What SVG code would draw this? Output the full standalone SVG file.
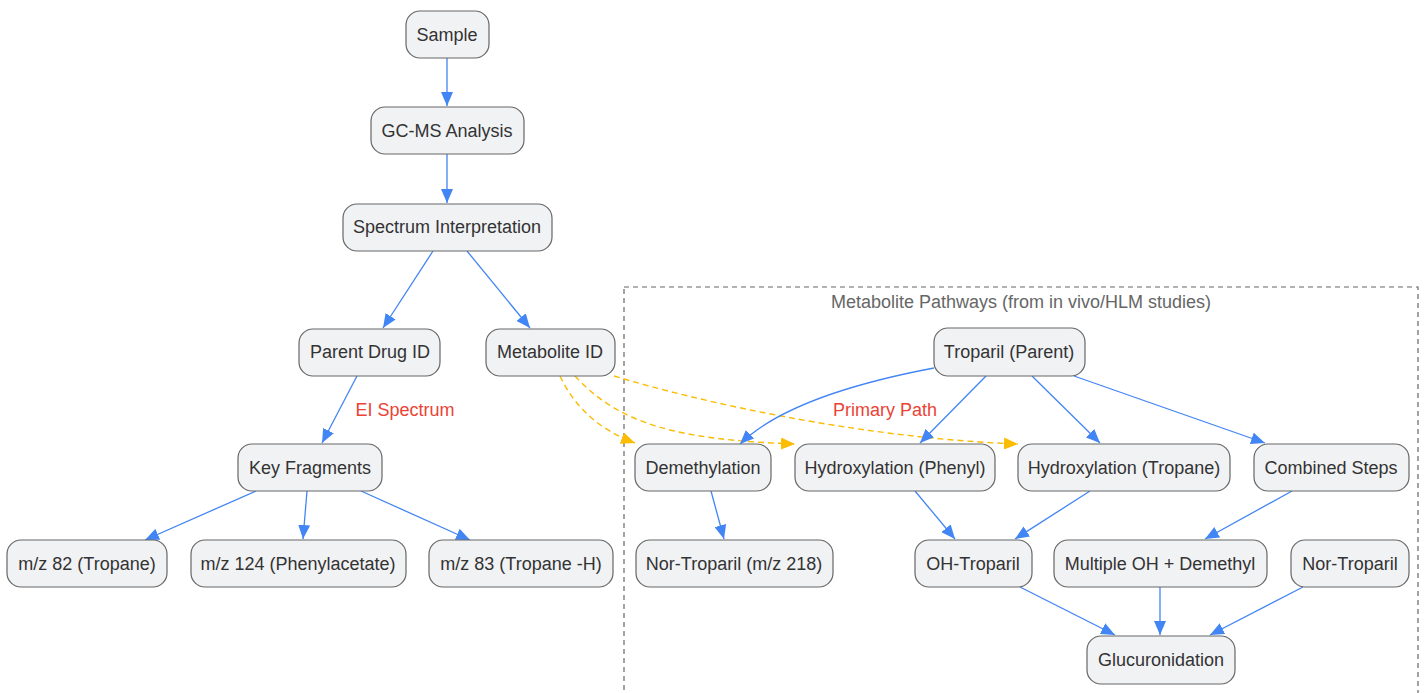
<svg xmlns="http://www.w3.org/2000/svg" width="1424" height="693" viewBox="0 0 1424 693">
<defs>
<marker id="ab" markerUnits="userSpaceOnUse" markerWidth="16" markerHeight="12" refX="14" refY="6" orient="auto"><path d="M0,0 L14,6 L0,12 z" fill="#4285f4"/></marker>
<marker id="ay" markerUnits="userSpaceOnUse" markerWidth="16" markerHeight="12" refX="14" refY="6" orient="auto"><path d="M0,0 L14,6 L0,12 z" fill="#fbbc04"/></marker>
</defs>
<style>
.n rect{fill:#f1f2f4;stroke:#666;stroke-width:1.2}
.n text{font-family:"Liberation Sans",Arial,sans-serif;font-size:18px;fill:#333;text-anchor:middle;dominant-baseline:central}
.e{fill:none;stroke:#4285f4;stroke-width:1.3;marker-end:url(#ab)}
.y{fill:none;stroke:#fbbc04;stroke-width:1.4;stroke-dasharray:6 4;marker-end:url(#ay)}
.lbl{font-family:"Liberation Sans",Arial,sans-serif;font-size:18px;fill:#ea4335;text-anchor:middle;dominant-baseline:central}
.ct{font-family:"Liberation Sans",Arial,sans-serif;font-size:18px;fill:#666;text-anchor:middle;dominant-baseline:central}
</style>
<rect width="1424" height="693" fill="#ffffff"/>
<g id="cluster">
<rect x="624" y="287" width="794" height="420" fill="none" stroke="#666" stroke-width="1.2" stroke-dasharray="5 4"/>
<text class="ct" x="1021" y="302">Metabolite Pathways (from in vivo/HLM studies)</text>
</g>
<g id="connectors">
<path class="e" d="M447,58 L447,106"/>
<path class="e" d="M447,154 L447,203"/>
<path class="e" d="M433,251 L383,328"/>
<path class="e" d="M467,251 L530,328"/>
<path class="e" d="M357,376 L322,443"/>
<path class="e" d="M256,491 L145,540"/>
<path class="e" d="M307,491 L303,539"/>
<path class="e" d="M361,491 L470,540"/>
<path class="y" d="M560,376 C575,408 600,430 635,443"/>
<path class="y" d="M575,376 C620,425 680,440 795,444"/>
<path class="y" d="M614,376 C700,402 860,438 1018,444"/>
<path class="e" d="M934,368 C860,382 780,405 740,444"/>
<path class="e" d="M986,376 L920,443"/>
<path class="e" d="M1032,376 L1100,443"/>
<path class="e" d="M1074,376 L1265,443"/>
<path class="e" d="M711,491 L724,539"/>
<path class="e" d="M915,491 L955,539"/>
<path class="e" d="M1090,491 L1015,539"/>
<path class="e" d="M1292,491 L1205,539"/>
<path class="e" d="M1020,587 L1115,635"/>
<path class="e" d="M1160,587 L1160,635"/>
<path class="e" d="M1303,587 L1210,635"/>
<text class="lbl" x="405" y="410">EI Spectrum</text>
<text class="lbl" x="885" y="410">Primary Path</text>
</g>
<g id="sample" class="n"><rect x="406" y="11" width="83" height="47" rx="14"/><text x="447" y="35">Sample</text></g>
<g id="gcms" class="n"><rect x="371" y="107" width="153" height="47" rx="14"/><text x="447" y="131">GC-MS Analysis</text></g>
<g id="spectrum" class="n"><rect x="343" y="204" width="209" height="47" rx="14"/><text x="447" y="227">Spectrum Interpretation</text></g>
<g id="parent" class="n"><rect x="299" y="329" width="141" height="47" rx="14"/><text x="370" y="352">Parent Drug ID</text></g>
<g id="metabolite" class="n"><rect x="486" y="329" width="129" height="47" rx="14"/><text x="550" y="352">Metabolite ID</text></g>
<g id="keyfrag" class="n"><rect x="238" y="444" width="144" height="47" rx="14"/><text x="310" y="468">Key Fragments</text></g>
<g id="mz82" class="n"><rect x="7" y="540" width="160" height="47" rx="14"/><text x="87" y="564">m/z 82 (Tropane)</text></g>
<g id="mz124" class="n"><rect x="191" y="540" width="215" height="47" rx="14"/><text x="298" y="564">m/z 124 (Phenylacetate)</text></g>
<g id="mz83" class="n"><rect x="429" y="540" width="184" height="47" rx="14"/><text x="521" y="564">m/z 83 (Tropane -H)</text></g>
<g id="troparil" class="n"><rect x="934" y="328" width="151" height="48" rx="14"/><text x="1009" y="352">Troparil (Parent)</text></g>
<g id="demeth" class="n"><rect x="635" y="444" width="136" height="47" rx="14"/><text x="703" y="468">Demethylation</text></g>
<g id="hydphenyl" class="n"><rect x="795" y="444" width="200" height="47" rx="14"/><text x="895" y="468">Hydroxylation (Phenyl)</text></g>
<g id="hydtropane" class="n"><rect x="1018" y="444" width="212" height="47" rx="14"/><text x="1124" y="468">Hydroxylation (Tropane)</text></g>
<g id="combined" class="n"><rect x="1254" y="444" width="155" height="47" rx="14"/><text x="1331" y="468">Combined Steps</text></g>
<g id="nortrop218" class="n"><rect x="636" y="540" width="197" height="47" rx="14"/><text x="734" y="564">Nor-Troparil (m/z 218)</text></g>
<g id="ohtrop" class="n"><rect x="915" y="540" width="117" height="47" rx="14"/><text x="973" y="564">OH-Troparil</text></g>
<g id="multioh" class="n"><rect x="1054" y="540" width="213" height="47" rx="14"/><text x="1160" y="564">Multiple OH + Demethyl</text></g>
<g id="nortrop" class="n"><rect x="1291" y="540" width="118" height="47" rx="14"/><text x="1350" y="564">Nor-Troparil</text></g>
<g id="gluc" class="n"><rect x="1087" y="636" width="148" height="48" rx="14"/><text x="1161" y="660">Glucuronidation</text></g>
</svg>
